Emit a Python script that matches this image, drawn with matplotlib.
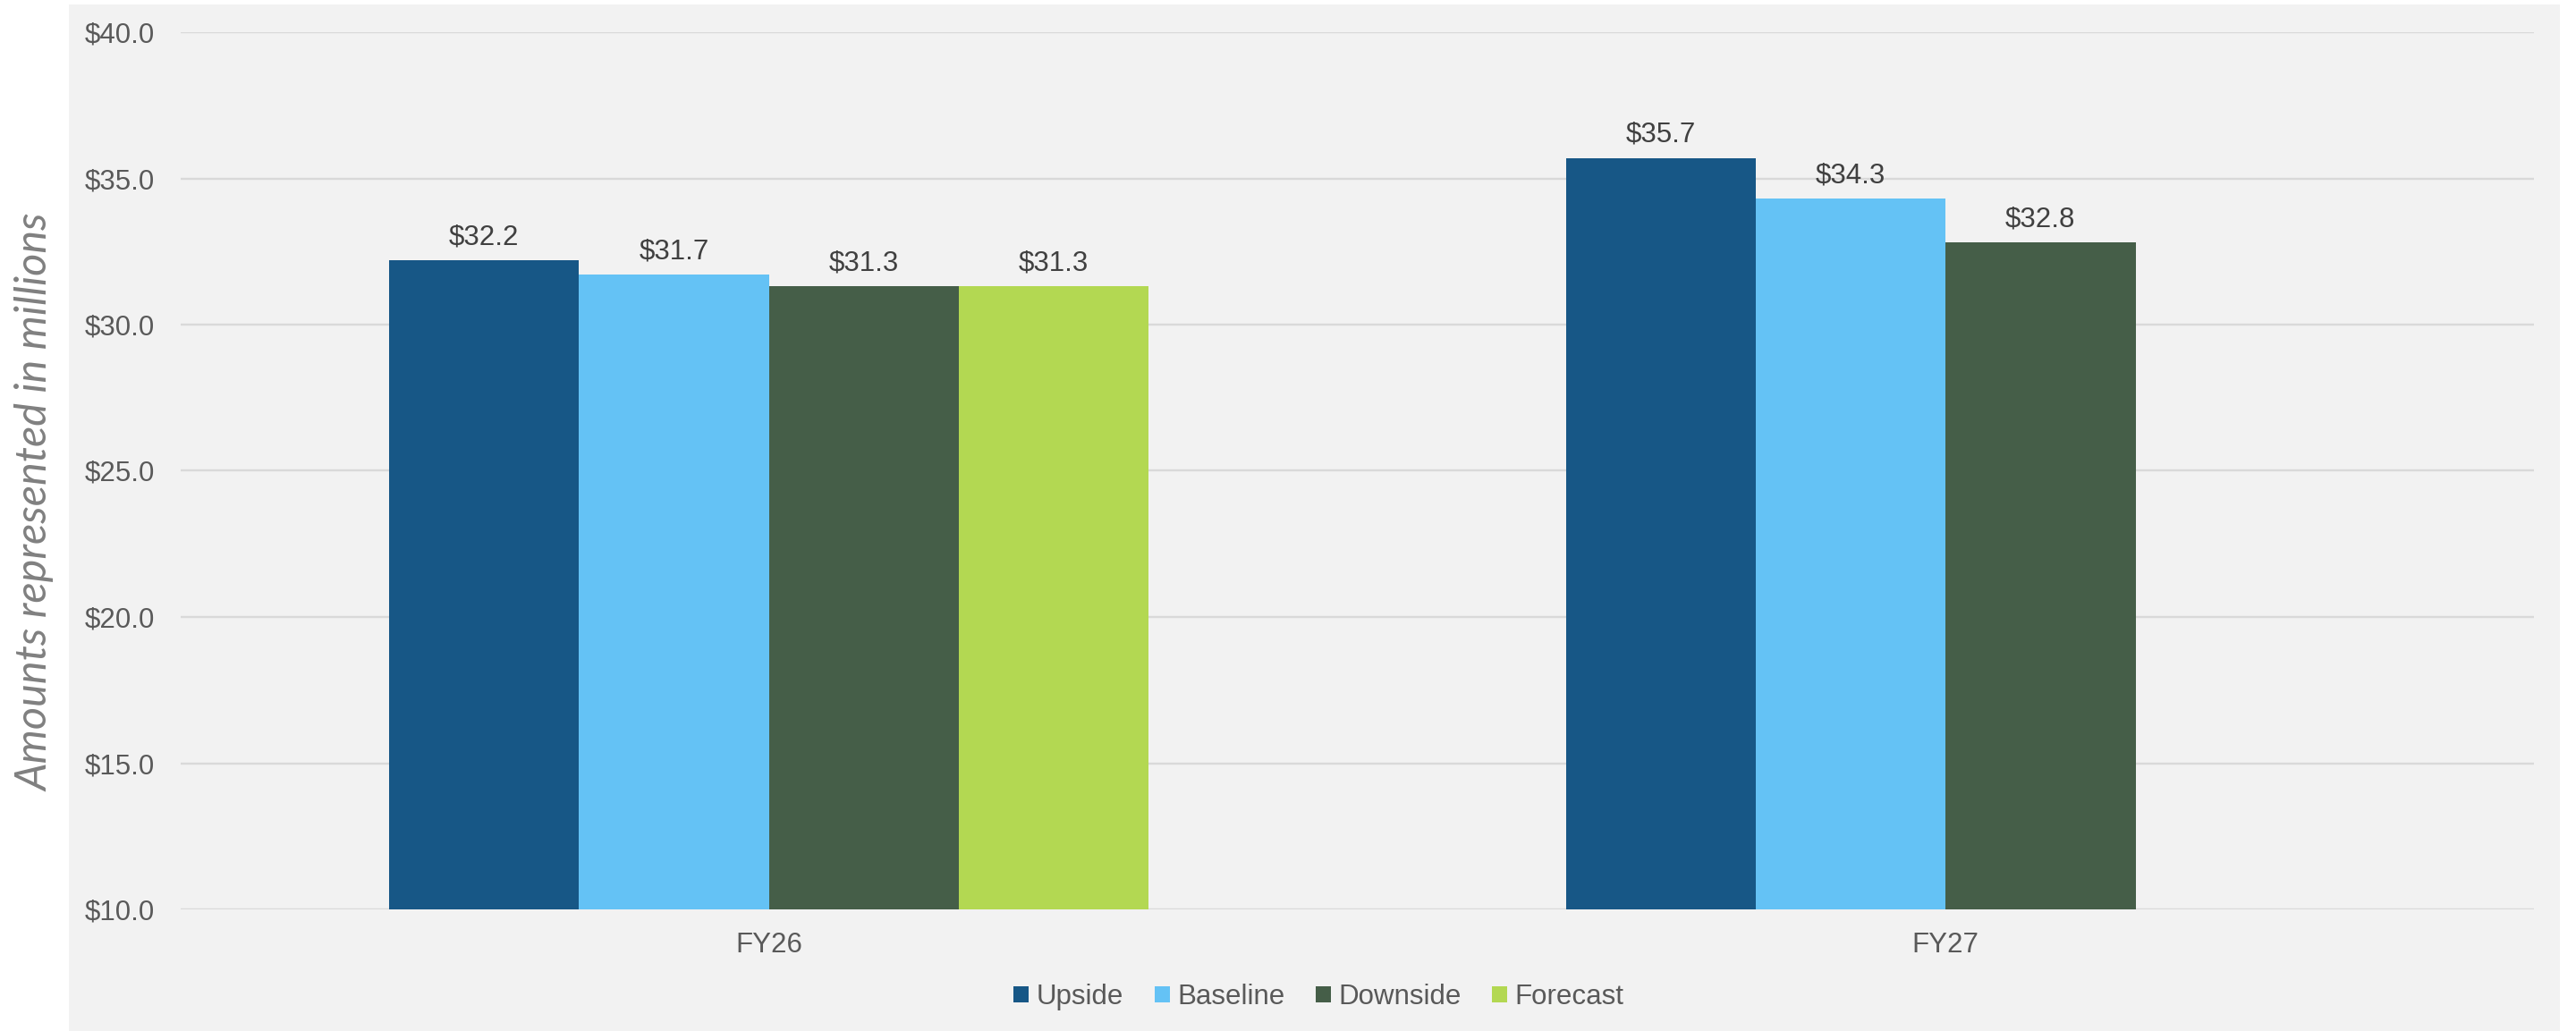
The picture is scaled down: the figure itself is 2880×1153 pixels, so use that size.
import numpy as np
import matplotlib
matplotlib.use("Agg")
import matplotlib.pyplot as plt
from matplotlib.patches import Rectangle

# Data
categories = ["FY26", "FY27"]
series_names = ["Upside", "Baseline", "Downside", "Forecast"]
upside = [32.2, 35.7]
baseline = [31.7, 34.3]
downside = [31.3, 32.8]
forecast = [31.3, np.nan]
series_values = [upside, baseline, downside, forecast]
series_colors = ["#175786", "#64C2F5", "#455E48", "#B3D852"]
y_ticks = [10, 15, 20, 25, 30, 35, 40]

W, H = 2880, 1153
DPI = 100
plt.rcParams["font.family"] = ["Liberation Sans", "DejaVu Sans"]

fig = plt.figure(figsize=(W / DPI, H / DPI), dpi=DPI, facecolor="white")

# light grey panel behind the chart
bg = fig.add_axes([0, 0, 1, 1], zorder=-10)
bg.set_axis_off()
bg.set_xlim(0, W)
bg.set_ylim(H, 0)
bg.add_patch(Rectangle((77, 5), 2862 - 77, H - 5, facecolor="#F2F2F2", edgecolor="none"))

ax = fig.add_axes([202 / W, 1 - 1017 / H, (2833 - 202) / W, (1017 - 36) / H], zorder=1)
ax.set_facecolor("none")

x = np.arange(len(categories))
n = len(series_names)
bar_w = 212.3 / 1315.5
for i, (name, vals, col) in enumerate(zip(series_names, series_values, series_colors)):
    pos = x + (i - (n - 1) / 2) * bar_w
    ax.bar(pos, np.array(vals) - 10, bottom=10, width=bar_w, color=col,
           label=name, zorder=3, linewidth=0)
    for p, v in zip(pos, vals):
        if np.isnan(v):
            continue
        ax.annotate(f"${v:.1f}", xy=(p, v), xytext=(0, 13), textcoords="offset points",
                    ha="center", va="baseline", fontsize=22.5, color="#404040", zorder=4)

ax.set_xlim(-0.5, len(categories) - 0.5)
ax.set_ylim(10, 40)
ax.set_yticks(y_ticks)
ax.set_yticklabels([f"${t:.1f}" for t in y_ticks])
ax.set_xticks(x)
ax.set_xticklabels(categories)
ax.tick_params(axis="y", length=0, pad=21, labelsize=22.5, labelcolor="#595959")
ax.tick_params(axis="x", length=0, pad=18, labelsize=22.5, labelcolor="#595959")
ax.yaxis.grid(True, color="#D9D9D9", linewidth=1.7, zorder=1)
ax.set_axisbelow(True)
for s in ax.spines.values():
    s.set_visible(False)

fig.text(40 / W, 1 - 562 / H, "Amounts represented in millions", rotation=90,
         ha="center", va="center", fontsize=35, color="#808080",
         family=["Lato", "DejaVu Sans"], style="italic", fontweight="normal")

fig.legend(loc="center", bbox_to_anchor=(1474.5 / W, 1 - 1115 / H), ncol=4,
           frameon=False, fontsize=22.5, labelcolor="#595959",
           handlelength=0.55, handleheight=0.55, handletextpad=0.27,
           columnspacing=1.1, borderpad=0, borderaxespad=0)

fig.savefig("out.png", dpi=DPI, facecolor="white")
